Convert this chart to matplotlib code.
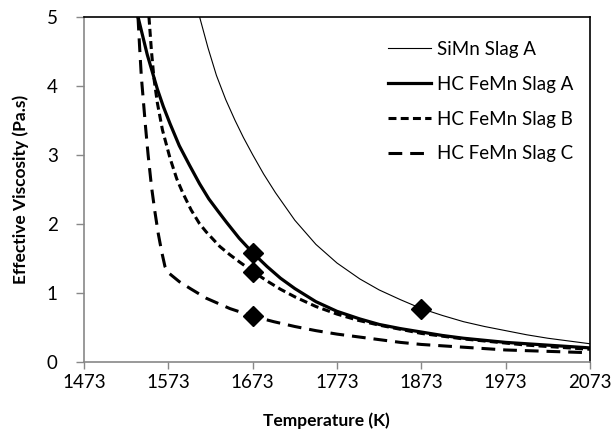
import matplotlib
matplotlib.use("Agg")
import matplotlib.pyplot as plt

plt.rcParams['font.family'] = ['Lato', 'DejaVu Sans']

# Effective viscosity curves (Pa.s) against temperature (K)
simn_a_T = [1610, 1620, 1630, 1641, 1652, 1662, 1673, 1686, 1700, 1723, 1748, 1773,
            1800, 1823, 1848, 1873, 1898, 1923, 1948, 1973, 1998, 2023, 2048, 2073]
simn_a_v = [5.0, 4.55, 4.15, 3.8, 3.5, 3.25, 3.0, 2.72, 2.45, 2.05, 1.70, 1.43,
            1.20, 1.04, 0.90, 0.77, 0.67, 0.58, 0.51, 0.45, 0.39, 0.34, 0.30, 0.26]

femn_a_T = [1537, 1543, 1548, 1554, 1560, 1567, 1575, 1586, 1598, 1610, 1621, 1632,
            1642, 1657, 1673, 1690, 1706, 1723, 1748, 1773, 1800, 1823, 1848, 1873,
            1898, 1923, 1948, 1973, 1998, 2023, 2048, 2073]
femn_a_v = [5.0, 4.7, 4.45, 4.2, 3.95, 3.7, 3.45, 3.13, 2.85, 2.58, 2.36, 2.18,
            2.02, 1.79, 1.58, 1.38, 1.21, 1.06, 0.87, 0.73, 0.62, 0.54, 0.48, 0.43,
            0.38, 0.34, 0.31, 0.28, 0.26, 0.24, 0.22, 0.20]

femn_b_T = [1550, 1553, 1556, 1560, 1566, 1575, 1583, 1590, 1600, 1610, 1618, 1634,
            1646, 1658, 1673, 1690, 1706, 1723, 1748, 1773, 1798, 1823, 1848, 1873,
            1898, 1923, 1948, 1973, 1998, 2023, 2048, 2073]
femn_b_v = [5.0, 4.5, 4.1, 3.75, 3.36, 2.95, 2.65, 2.45, 2.2, 2.0, 1.88, 1.67,
            1.55, 1.44, 1.31, 1.17, 1.05, 0.94, 0.80, 0.69, 0.60, 0.53, 0.47, 0.41,
            0.37, 0.33, 0.30, 0.27, 0.24, 0.22, 0.20, 0.18]

femn_c_T = [1537, 1539, 1541, 1546, 1549, 1553, 1557, 1561, 1565, 1569, 1573, 1586,
            1599, 1618, 1646, 1673, 1698, 1723, 1748, 1773, 1798, 1823, 1848, 1873,
            1898, 1923, 1948, 1973, 1998, 2023, 2048, 2073]
femn_c_v = [5.0, 4.55, 4.13, 3.4, 3.0, 2.54, 2.18, 1.86, 1.6, 1.38, 1.29, 1.16,
            1.06, 0.92, 0.77, 0.66, 0.58, 0.51, 0.45, 0.40, 0.36, 0.32, 0.28, 0.25,
            0.23, 0.21, 0.19, 0.17, 0.16, 0.15, 0.14, 0.13]

# Measured points
meas_T = [1673, 1673, 1673, 1873]
meas_v = [1.58, 1.30, 0.66, 0.76]

labels = ["SiMn Slag A", "HC FeMn Slag A", "HC FeMn Slag B", "HC FeMn Slag C"]
x_ticks = [1473, 1573, 1673, 1773, 1873, 1973, 2073]
y_ticks = [0, 1, 2, 3, 4, 5]

fig = plt.figure(figsize=(6.11, 4.42), dpi=100)
ax = fig.add_axes([84 / 611, 1 - 361.7 / 442, (590 - 84) / 611, (361.7 - 16.7) / 442])

ax.plot(simn_a_T, simn_a_v, color='black', lw=0.8, label=labels[0])
ax.plot(femn_a_T, femn_a_v, color='black', lw=2.3, label=labels[1])
ax.plot(femn_b_T, femn_b_v, color='black', lw=2.2, dashes=(2.6, 1.4),
        dash_capstyle='butt', label=labels[2])
ax.plot(femn_c_T, femn_c_v, color='black', lw=2.2, dashes=(4.5, 2.6),
        dash_capstyle='butt', label=labels[3])
ax.plot(meas_T, meas_v, linestyle='none', marker='D', ms=10.5, color='black',
        zorder=5)

ax.set_xlim(1473, 2073)
ax.set_ylim(0, 5)
ax.set_xticks(x_ticks)
ax.set_yticks(y_ticks)
ax.tick_params(axis='x', direction='out', length=5, width=1, color='#888888',
               labelsize=13.5, pad=4)
ax.tick_params(axis='y', direction='out', length=6, width=1, color='#888888',
               labelsize=13.5, pad=13)
for side in ('left', 'bottom'):
    ax.spines[side].set_color('#888888')
    ax.spines[side].set_linewidth(1.2)
for side in ('top', 'right'):
    ax.spines[side].set_color('black')
    ax.spines[side].set_linewidth(1.2)

fig.text(326 / 611, 1 - 421 / 442, "Temperature (K)", ha='center', va='center',
         fontsize=12.5, fontweight='bold')
fig.text(21 / 611, 1 - ((16.7 + 361.7) / 2) / 442, "Effective Viscosity (Pa.s)",
         ha='center', va='center', rotation=90, fontsize=12.5, fontweight='bold')

ax.legend(loc='upper left', bbox_to_anchor=(388 / 611, 1 - 41 / 442),
          bbox_transform=fig.transFigure, frameon=False, fontsize=13.5,
          handlelength=2.3, handletextpad=0.3, labelspacing=0.95,
          borderaxespad=0, borderpad=0)

fig.savefig("out.png", dpi=100)
